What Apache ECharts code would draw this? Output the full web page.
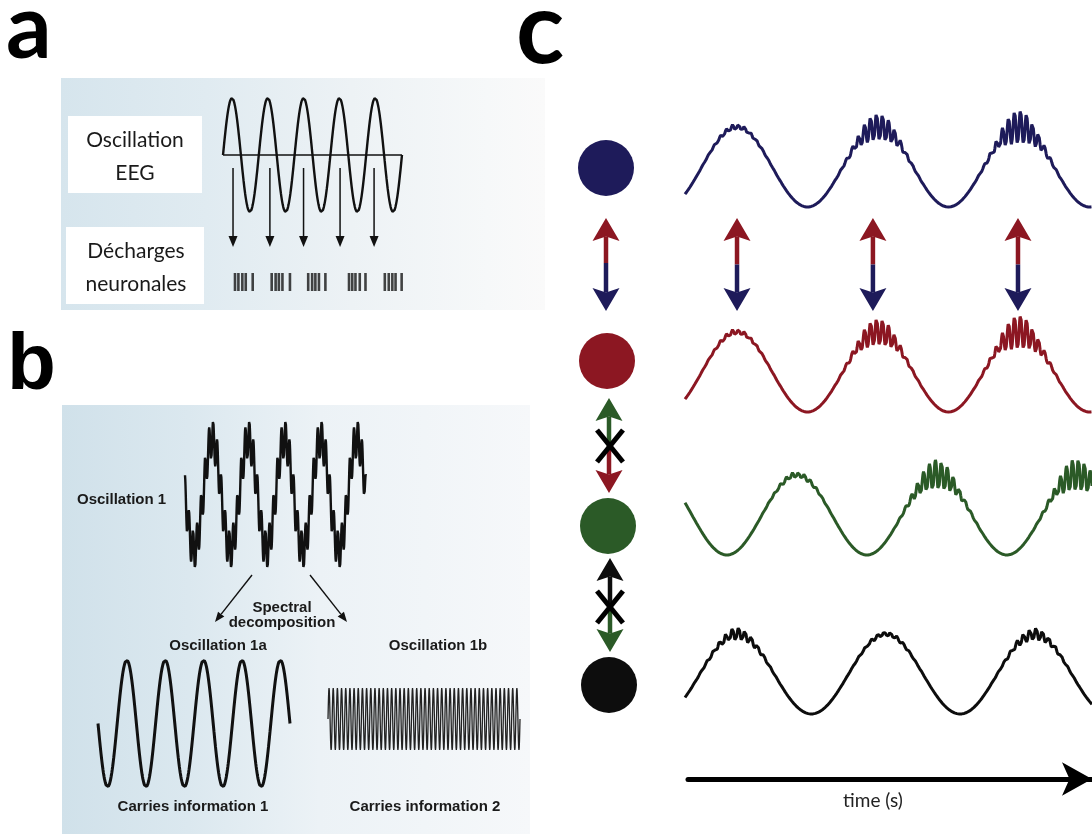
<!DOCTYPE html>
<html><head><meta charset="utf-8">
<script src="https://cdn.jsdelivr.net/npm/echarts@6/dist/echarts.min.js"></script>
<style>html,body{margin:0;padding:0;background:#fff}#chart{width:1092px;height:834px}</style>
</head><body><div id="chart"></div>
<script>
// ===================== DATA =====================
// Panel a : EEG oscillation (in cycles) and neuronal discharges
const eegCycles = 5;
const eegArrowTimes = [0.28, 1.31, 2.25, 3.27, 4.22];
const spikeTimes = [
  [0.335, 0.43, 0.54, 0.635, 0.83],
  [1.36, 1.47, 1.56, 1.66, 1.87],
  [2.38, 2.49, 2.58, 2.68, 2.86],
  [3.52, 3.61, 3.70, 3.82, 3.98],
  [4.52, 4.63, 4.73, 4.82, 4.99]
];
// Panel b : oscillation 1 = 1a (slow) + 1b (fast)
const osc1Cycles = 5;
const osc1FastRatio = 9;
const osc1FastAmp = 0.35;
const osc1aCycles = 5;
const osc1bCycles = 46;
// Panel c : four coupled oscillators (time in s, one slow cycle ~ 1 s)
const cNames = ['blue', 'red', 'green', 'black'];
const cColors = ['#1e1b5a', '#8c1722', '#2b5a27', '#0d0d0d'];
const cPeriods = [1.0, 1.0, 0.993, 1.055];
const cFirstPeak = [0.369, 0.369, 0.794, 0.369];
const cBurstAmp = [
  [0.08, 0.35, 0.42],
  [0.08, 0.35, 0.42],
  [0.08, 0.38, 0.42],
  [0.16, 0.07, 0.16]
];
const cRippleRatio = 23.5;
const cDuration = 2.887;
const couplingTimes = [0.369, 1.333, 2.362];
// Texts
const aTexts = { osc: ['Oscillation', 'EEG'], dis: ['Décharges', 'neuronales'] };
const bTexts = { osc1: 'Oscillation 1', spec: ['Spectral', 'decomposition'], o1a: 'Oscillation 1a', o1b: 'Oscillation 1b', c1: 'Carries information 1', c2: 'Carries information 2' };
const timeLabel = 'time (s)';

// ===================== series construction =====================
function sampled(t0, t1, n, f) {
  const out = [];
  for (let k = 0; k <= n; k++) { const t = t0 + (t1 - t0) * k / n; out.push([t, f(t)]); }
  return out;
}
const TAU = Math.PI * 2;
const eegData = sampled(0, eegCycles, 600, t => Math.sin(TAU * t));
const osc1Data = sampled(0, osc1Cycles, 2400, t => -Math.sin(TAU * t) + osc1FastAmp * Math.cos(TAU * osc1FastRatio * t));
const osc1Ext = Math.max.apply(null, osc1Data.map(p => Math.abs(p[1])));
const osc1aData = sampled(0, osc1aCycles, 500, t => -Math.sin(TAU * t));
const osc1bData = sampled(0, osc1bCycles, osc1bCycles * 16, t => Math.sin(TAU * t));
function cWave(i) {
  return sampled(0, cDuration, 1500, t => {
    const ph = (t - cFirstPeak[i]) / cPeriods[i];
    let y = Math.cos(TAU * ph);
    const n = Math.round(ph);
    if (n >= 0 && n < cBurstAmp[i].length) {
      const d = ph - n;
      y += cBurstAmp[i][n] * Math.exp(-d * d / (2 * 0.11 * 0.11)) * Math.sin(TAU * cRippleRatio * ph);
    }
    return y;
  });
}

// arrow helpers
function arrowShapes(x1, y1, x2, y2, color, lw, hl, hw, notch) {
  const dx = x2 - x1, dy = y2 - y1, L = Math.hypot(dx, dy), ux = dx / L, uy = dy / L;
  const bx = x2 - ux * hl, by = y2 - uy * hl;
  const nx = x2 - ux * hl * (1 - notch), ny = y2 - uy * hl * (1 - notch);
  return [
    { type: 'line', shape: { x1: x1, y1: y1, x2: nx, y2: ny }, style: { stroke: color, lineWidth: lw } },
    { type: 'polygon', shape: { points: [[x2, y2], [bx - uy * hw / 2, by + ux * hw / 2], [nx, ny], [bx + uy * hw / 2, by - ux * hw / 2]] }, style: { fill: color } }
  ];
}
function doubleArrow(x, yTop, yBot, yMid, cTop, cBot) {
  return arrowShapes(x, yMid, x, yTop, cTop, 4.5, 23, 27, 0.2).concat(arrowShapes(x, yMid, x, yBot, cBot, 4.5, 23, 27, 0.2));
}

// ===================== layout =====================
const grids = [
  { left: 223, top: 98, width: 179, height: 114 },     // 0 EEG
  { left: 223, top: 168, width: 179, height: 79 },     // 1 EEG arrows
  { left: 223, top: 273, width: 179, height: 18 },     // 2 spikes
  { left: 185, top: 421, width: 181, height: 147 },    // 3 osc1
  { left: 98, top: 660, width: 192, height: 127 },     // 4 osc1a
  { left: 328, top: 688, width: 192, height: 62 },     // 5 osc1b
  { left: 685, right: 0, top: 103, height: 128 },      // 6 blue
  { left: 685, right: 0, top: 308, height: 128 },      // 7 red
  { left: 685, right: 0, top: 451, height: 128 },      // 8 green
  { left: 685, right: 0, top: 610, height: 128 },      // 9 black
  { left: 685, right: 0, top: 218, height: 93 },       // 10 coupling arrows
  { left: 688, right: 0, top: 700, bottom: 55 }        // 11 time axis
].map(g => Object.assign({ outerBoundsMode: 'none', containLabel: false }, g));

const xr = [[0, eegCycles], [0, eegCycles], [0, eegCycles], [0, osc1Cycles], [0, osc1aCycles], [0, osc1bCycles],
  [0, cDuration], [0, cDuration], [0, cDuration], [0, cDuration], [0, cDuration], [0, cDuration]];
const yr = [[-1, 1], [0, 1], [0, 1], [-osc1Ext, osc1Ext], [-1, 1], [-1, 1],
  [-1.6, 1.6], [-1.6, 1.6], [-1.6, 1.6], [-1.6, 1.6], [0, 1], [0, 1]];
const xAxes = xr.map((r, i) => ({ gridIndex: i, type: 'value', min: r[0], max: r[1], show: false }));
const yAxes = yr.map((r, i) => ({ gridIndex: i, type: 'value', min: r[0], max: r[1], show: false }));
// time axis
Object.assign(xAxes[11], {
  show: true, position: 'bottom', name: timeLabel, nameLocation: 'middle', nameGap: 12,
  nameTextStyle: { fontFamily: 'Lato', fontSize: 19, color: '#222', padding: [0, 34, 0, 0] },
  axisLine: { show: true, onZero: false, lineStyle: { color: '#000', width: 5 }, symbol: ['none', 'arrow'], symbolSize: [25, 30] },
  axisTick: { show: false }, axisLabel: { show: false }, splitLine: { show: false }
});

const lineBase = { type: 'line', showSymbol: false, symbol: 'none', silent: true, animation: false, z: 5 };
const series = [
  Object.assign({}, lineBase, { name: 'EEG baseline', xAxisIndex: 0, yAxisIndex: 0, data: [[0, 0], [eegCycles, 0]], lineStyle: { color: '#111', width: 1.6 } }),
  Object.assign({}, lineBase, { name: 'EEG', xAxisIndex: 0, yAxisIndex: 0, data: eegData, lineStyle: { color: '#111', width: 2.4 } }),
  {
    type: 'custom', name: 'EEG arrows', xAxisIndex: 1, yAxisIndex: 1, clip: false, silent: true, animation: false, z: 5,
    data: eegArrowTimes.map(t => [t]), encode: { x: 0 },
    renderItem: (p, api) => {
      const a = api.coord([api.value(0), 1]), b = api.coord([api.value(0), 0]);
      return { type: 'group', children: arrowShapes(a[0], a[1], b[0], b[1], '#111', 1.5, 11, 9, 0) };
    }
  },
  {
    type: 'scatter', name: 'spikes', xAxisIndex: 2, yAxisIndex: 2, silent: true, animation: false, z: 5,
    symbol: 'rect', symbolSize: [2.6, 18], itemStyle: { color: '#151515' },
    data: spikeTimes.flat().map(t => [t, 0.5])
  },
  Object.assign({}, lineBase, { name: 'Oscillation 1', xAxisIndex: 3, yAxisIndex: 3, data: osc1Data, lineStyle: { color: '#111', width: 2.4 } }),
  Object.assign({}, lineBase, { name: 'Oscillation 1a', xAxisIndex: 4, yAxisIndex: 4, data: osc1aData, lineStyle: { color: '#111', width: 3 } }),
  Object.assign({}, lineBase, { name: 'Oscillation 1b', xAxisIndex: 5, yAxisIndex: 5, data: osc1bData, lineStyle: { color: '#222', width: 1.3 } })
];
cNames.forEach((nm, i) => {
  series.push(Object.assign({}, lineBase, { name: nm, xAxisIndex: 6 + i, yAxisIndex: 6 + i, data: cWave(i), lineStyle: { color: cColors[i], width: 3 } }));
});
series.push({
  type: 'custom', name: 'coupling', xAxisIndex: 10, yAxisIndex: 10, clip: false, silent: true, animation: false, z: 5,
  data: couplingTimes.map(t => [t]), encode: { x: 0 },
  renderItem: (p, api) => {
    const top = api.coord([api.value(0), 1]), bot = api.coord([api.value(0), 0]), mid = api.coord([api.value(0), 0.5]);
    return { type: 'group', children: doubleArrow(top[0], top[1], bot[1], mid[1], cColors[1], cColors[0]) };
  }
});

// ===================== decorations =====================
function T(x, y, text, font, align, color) {
  return { type: 'text', x: x, y: y, z: 100, silent: true,
    style: { text: text, font: font, fill: color || '#1a1a1a', align: align || 'center', verticalAlign: 'middle', textAlign: align || 'center', textVerticalAlign: 'middle' } };
}
const fA = "21px Lato, 'Open Sans', sans-serif";
const fB = "bold 15px 'Liberation Sans', Arial, sans-serif";
const graphic = [];
// backgrounds
graphic.push({ type: 'rect', z: -10, silent: true, shape: { x: 61, y: 78, width: 484, height: 232 },
  style: { fill: { type: 'linear', x: 0, y: 0, x2: 1, y2: 0, colorStops: [
    { offset: 0, color: '#d6e5ed' }, { offset: 0.3, color: '#e0ebf1' }, { offset: 0.6, color: '#edf2f5' }, { offset: 0.88, color: '#f6f8f9' }, { offset: 1, color: '#fafafa' }] } } });
graphic.push({ type: 'rect', z: -10, silent: true, shape: { x: 62, y: 405, width: 468, height: 429 },
  style: { fill: { type: 'linear', x: 0, y: 0, x2: 1, y2: 0, colorStops: [
    { offset: 0, color: '#d0e1ea' }, { offset: 0.27, color: '#dbe8ef' }, { offset: 0.55, color: '#ecf2f6' }, { offset: 1, color: '#f6f8fa' }] } } });
// white label boxes
graphic.push({ type: 'rect', z: -5, silent: true, shape: { x: 68, y: 116, width: 134, height: 77 }, style: { fill: '#fff' } });
graphic.push({ type: 'rect', z: -5, silent: true, shape: { x: 66, y: 227, width: 138, height: 77 }, style: { fill: '#fff' } });
// panel letters
graphic.push(T(6, 29, 'a', "bold 90px Lato, sans-serif", 'left', '#000'));
graphic.push(T(7, 367, 'b', "bold 80px 'Liberation Sans', Arial, sans-serif", 'left', '#000'));
graphic.push(T(516, 31, 'c', "bold 100px Lato, sans-serif", 'left', '#000'));
// panel a texts
graphic.push(T(135, 140, aTexts.osc[0], fA));
graphic.push(T(135, 173, aTexts.osc[1], fA));
graphic.push(T(136, 251, aTexts.dis[0], fA));
graphic.push(T(136, 284, aTexts.dis[1], fA));
// panel b texts
graphic.push(T(77, 500, bTexts.osc1, fB, 'left'));
graphic.push(T(282, 608, bTexts.spec[0], fB));
graphic.push(T(282, 623, bTexts.spec[1], fB));
graphic.push(T(218, 646, bTexts.o1a, fB));
graphic.push(T(438, 646, bTexts.o1b, fB));
graphic.push(T(193, 807, bTexts.c1, fB));
graphic.push(T(425, 807, bTexts.c2, fB));
// spectral decomposition arrows
arrowShapes(252, 575, 215, 622, '#111', 1.4, 10, 8, 0).forEach(s => graphic.push(Object.assign({ z: 50, silent: true }, s)));
arrowShapes(310, 575, 347, 622, '#111', 1.4, 10, 8, 0).forEach(s => graphic.push(Object.assign({ z: 50, silent: true }, s)));
// panel c : node circles
[[606, 168], [607, 361], [608, 526], [609, 685]].forEach((c, i) => {
  graphic.push({ type: 'circle', z: 50, silent: true, shape: { cx: c[0], cy: c[1], r: 28 }, style: { fill: cColors[i] } });
});
// node arrows
const nodeArrows = []
  .concat(doubleArrow(606, 218, 311, 263, cColors[1], cColors[0]))
  .concat(doubleArrow(609, 398, 493, 447, cColors[2], cColors[1]))
  .concat(doubleArrow(610, 558, 652, 606, cColors[3], cColors[2]));
nodeArrows.forEach(s => graphic.push(Object.assign({ z: 50, silent: true }, s)));
// X marks (no coupling)
[[610, 446], [610, 607]].forEach(c => {
  graphic.push({ type: 'line', z: 60, silent: true, shape: { x1: c[0] - 13, y1: c[1] - 16, x2: c[0] + 13, y2: c[1] + 16 }, style: { stroke: '#000', lineWidth: 5 } });
  graphic.push({ type: 'line', z: 60, silent: true, shape: { x1: c[0] + 13, y1: c[1] - 16, x2: c[0] - 13, y2: c[1] + 16 }, style: { stroke: '#000', lineWidth: 5 } });
});

const chart = echarts.init(document.getElementById('chart'), null, { renderer: 'canvas' });
chart.setOption({
  backgroundColor: '#ffffff',
  animation: false,
  grid: grids,
  xAxis: xAxes,
  yAxis: yAxes,
  series: series,
  graphic: { elements: graphic }
});
</script>
</body></html>
